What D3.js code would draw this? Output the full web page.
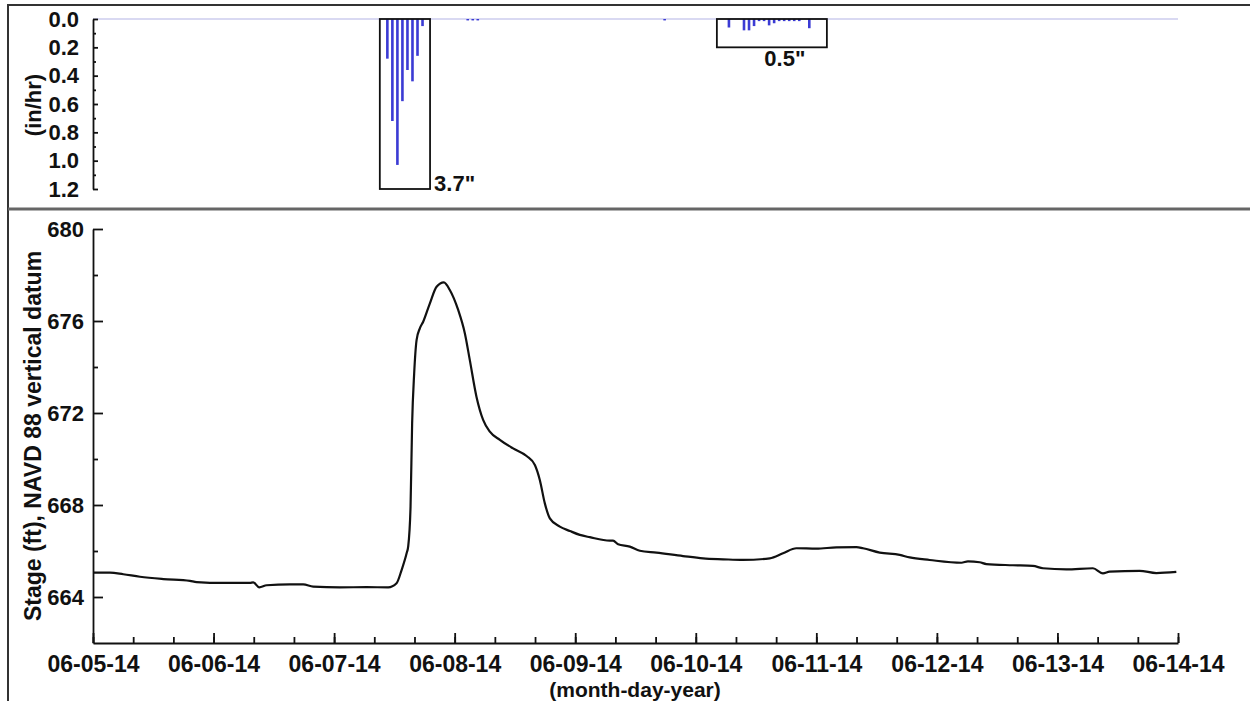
<!DOCTYPE html>
<meta charset="utf-8">
<style>
  body { margin: 0; background: #fff; }
  text { font-family: "Liberation Sans", Arial, sans-serif; font-weight: bold; fill: #111; }
  .axis path, .axis line { stroke: #111; stroke-width: 1.8px; }
</style>
<body>
<div id="vis"></div>
<script src="https://cdn.jsdelivr.net/npm/d3@7"></script>
<script>

// rainfall, hourly intensity (in/hr)
const rainTime = ['06-07-14 10:36', '06-07-14 11:36', '06-07-14 12:36', '06-07-14 13:36',
  '06-07-14 14:36', '06-07-14 15:36', '06-07-14 16:36', '06-07-14 17:36',
  '06-08-14 02:36', '06-08-14 03:36', '06-08-14 04:36', '06-09-14 17:48',
  '06-10-14 06:36', '06-10-14 09:36', '06-10-14 10:36', '06-10-14 11:36',
  '06-10-14 12:36', '06-10-14 13:36', '06-10-14 14:36', '06-10-14 15:36',
  '06-10-14 16:36', '06-10-14 17:36', '06-10-14 18:36', '06-10-14 19:36',
  '06-10-14 20:36', '06-10-14 22:36'];
const rainInHr = [0.28, 0.72, 1.03, 0.58, 0.36, 0.44, 0.26, 0.05,
  0.01, 0.01, 0.01, 0.01,
  0.06, 0.08, 0.08, 0.05, 0.015, 0.015, 0.045, 0.03,
  0.015, 0.015, 0.015, 0.015, 0.015, 0.065];

// storm totals boxes
const stormStart = ['06-07-14 09:06', '06-10-14 04:12'];
const stormEnd = ['06-07-14 19:06', '06-11-14 02:06'];
const stormDepth = [1.2, 0.2];
const stormLabel = ['3.7"', '0.5"'];

// stage (ft, NAVD 88)
const stageTime = ['06-05-14 00:00', '06-05-14 03:23', '06-05-14 06:02', '06-05-14 09:21',
  '06-05-14 14:00', '06-05-14 19:18', '06-05-14 20:38', '06-06-14 01:56', '06-06-14 07:15',
  '06-06-14 07:54', '06-06-14 09:06', '06-06-14 10:34', '06-06-14 15:12', '06-06-14 17:51',
  '06-06-14 19:50', '06-07-14 01:09', '06-07-14 06:28', '06-07-14 10:46', '06-07-14 12:26',
  '06-07-14 13:26', '06-07-14 14:26', '06-07-14 14:45', '06-07-14 15:13', '06-07-14 15:32',
  '06-07-14 15:56', '06-07-14 16:25', '06-07-14 17:04', '06-07-14 17:44', '06-07-14 19:04',
  '06-07-14 20:24', '06-07-14 21:51', '06-07-14 23:02', '06-08-14 00:42', '06-08-14 02:02',
  '06-08-14 03:01', '06-08-14 04:21', '06-08-14 05:40', '06-08-14 07:00', '06-08-14 09:00',
  '06-08-14 11:38', '06-08-14 14:19', '06-08-14 15:58', '06-08-14 16:57', '06-08-14 17:57',
  '06-08-14 18:57', '06-08-14 20:56', '06-08-14 22:56', '06-09-14 00:55', '06-09-14 02:54',
  '06-09-14 06:53', '06-09-14 07:32', '06-09-14 08:32', '06-09-14 10:52', '06-09-14 12:52',
  '06-09-14 16:11', '06-09-14 21:28', '06-10-14 01:27', '06-10-14 05:26', '06-10-14 09:24',
  '06-10-14 14:44', '06-10-14 17:22', '06-10-14 20:02', '06-11-14 00:01', '06-11-14 04:00',
  '06-11-14 07:59', '06-11-14 09:18', '06-11-14 12:37', '06-11-14 16:36', '06-11-14 18:35',
  '06-11-14 22:34', '06-12-14 04:53', '06-12-14 06:11', '06-12-14 08:31', '06-12-14 09:51',
  '06-12-14 15:09', '06-12-14 19:07', '06-12-14 21:07', '06-13-14 01:46', '06-13-14 07:04',
  '06-13-14 09:03', '06-13-14 10:23', '06-13-14 16:22', '06-13-14 19:41', '06-13-14 23:40'];
const stageFt = [665.06, 665.06, 664.99, 664.88,
  664.78, 664.70, 664.65, 664.61, 664.61,
  664.64, 664.42, 664.51, 664.55, 664.55,
  664.45, 664.42, 664.43, 664.42, 664.60,
  665.17, 665.90, 666.20, 667.93, 671.55,
  673.70, 675.17, 675.68, 675.97, 676.77,
  677.49, 677.68, 677.35, 676.48, 675.46,
  674.30, 672.70, 671.70, 671.19, 670.83,
  670.46, 670.13, 669.74, 669.09, 668.07,
  667.42, 667.06, 666.87, 666.70, 666.60,
  666.45, 666.45, 666.29, 666.19, 666.01,
  665.93, 665.78, 665.68, 665.64, 665.61,
  665.68, 665.90, 666.12, 666.10, 666.16,
  666.17, 666.12, 665.93, 665.83, 665.72,
  665.61, 665.49, 665.55, 665.51, 665.43,
  665.38, 665.35, 665.25, 665.20, 665.25,
  665.03, 665.10, 665.14, 665.04, 665.09];

const xDomain = ['06-05-14 00:00', '06-14-14 00:00'];

const width = 1250, height = 701;
const parse = d3.timeParse('%m-%d-%y %H:%M');

const svg = d3.select('#vis').append('svg')
  .attr('width', width)
  .attr('height', height);

// frame
svg.append('path')
  .attr('d', 'M8,701V5H1250')
  .style('fill', 'none')
  .style('stroke', '#333')
  .style('stroke-width', 2);
svg.append('path')
  .attr('d', 'M8,209H1250')
  .style('stroke', '#666')
  .style('stroke-width', 3);

const x = d3.scaleTime()
  .domain(xDomain.map(parse))
  .range([93, 1178]);

// ---- rainfall panel ----
const yR = d3.scaleLinear().domain([0, 1.2]).range([19, 189]);

svg.append('line')
  .attr('x1', 93).attr('x2', 1178)
  .attr('y1', yR(0)).attr('y2', yR(0))
  .style('stroke', '#b4b4e6')
  .style('stroke-width', 1.2);

svg.append('g')
  .selectAll('rect')
  .data(rainTime.map((t, i) => ({t: parse(t), v: rainInHr[i]})))
  .enter().append('rect')
  .attr('x', d => x(d.t) - 1.3)
  .attr('width', 2.6)
  .attr('y', yR(0))
  .attr('height', d => yR(d.v) - yR(0))
  .style('fill', '#3b3bd4');

svg.append('g')
  .selectAll('rect')
  .data(stormStart)
  .enter().append('rect')
  .attr('x', d => x(parse(d)))
  .attr('width', (d, i) => x(parse(stormEnd[i])) - x(parse(d)))
  .attr('y', yR(0))
  .attr('height', (d, i) => yR(stormDepth[i]) - yR(0))
  .style('fill', 'none')
  .style('stroke', '#111')
  .style('stroke-width', 1.8);

svg.append('text')
  .attr('x', x(parse(stormEnd[0])) + 4)
  .attr('y', yR(stormDepth[0]) + 2)
  .style('font-size', '22px')
  .text(stormLabel[0]);
svg.append('text')
  .attr('x', (x(parse(stormStart[1])) + x(parse(stormEnd[1]))) / 2 + 13)
  .attr('y', yR(stormDepth[1]) + 19)
  .style('font-size', '22px')
  .style('text-anchor', 'middle')
  .text(stormLabel[1]);

svg.append('g')
  .attr('class', 'axis')
  .attr('transform', 'translate(93,0)')
  .call(d3.axisLeft(yR).tickValues([0, 0.2, 0.4, 0.6, 0.8, 1.0, 1.2])
    .tickFormat(d3.format('.1f')).tickSize(-5).tickSizeOuter(0).tickPadding(14));
svg.append('g')
  .attr('class', 'axis')
  .attr('transform', 'translate(93,0)')
  .call(d3.axisLeft(yR).tickValues([0.1, 0.3, 0.5, 0.7, 0.9, 1.1])
    .tickFormat('').tickSize(-3).tickSizeOuter(0))
  .select('.domain').remove();

svg.append('text')
  .attr('transform', 'translate(41,105) rotate(-90)')
  .style('font-size', '22px')
  .style('text-anchor', 'middle')
  .text('(in/hr)');

// ---- stage panel ----
const yS = d3.scaleLinear().domain([662, 680]).range([643, 229]);

svg.append('g')
  .attr('class', 'axis')
  .attr('transform', 'translate(93,0)')
  .call(d3.axisLeft(yS).tickValues([664, 668, 672, 676, 680])
    .tickSize(-10).tickSizeOuter(0).tickPadding(9));
svg.append('g')
  .attr('class', 'axis')
  .attr('transform', 'translate(93,0)')
  .call(d3.axisLeft(yS).tickValues([666, 670, 674, 678])
    .tickFormat('').tickSize(-5).tickSizeOuter(0))
  .select('.domain').remove();

const xAxis = svg.append('g')
  .attr('class', 'axis')
  .attr('transform', 'translate(0,' + yS(662) + ')')
  .call(d3.axisBottom(x).ticks(d3.timeDay.every(1))
    .tickFormat(d3.timeFormat('%m-%d-%y')).tickSize(-10).tickSizeOuter(0).tickPadding(13));
svg.append('g')
  .attr('class', 'axis')
  .attr('transform', 'translate(0,' + yS(662) + ')')
  .call(d3.axisBottom(x).ticks(d3.timeHour.every(8))
    .tickFormat('').tickSize(-6).tickSizeOuter(0))
  .select('.domain').remove();

svg.selectAll('.axis text')
  .style('font-size', '22px')
  .style('font-family', '"Liberation Sans", Arial, sans-serif')
  .style('font-weight', 'bold')
  .style('fill', '#111');
xAxis.selectAll('text').style('font-size', '23px');

const line = d3.line()
  .x(d => x(d.t))
  .y(d => yS(d.v))
  .curve(d3.curveMonotoneX);

svg.append('path')
  .datum(stageTime.map((t, i) => ({t: parse(t), v: stageFt[i]})))
  .attr('d', line)
  .style('fill', 'none')
  .style('stroke', '#111')
  .style('stroke-width', 2.2);

svg.append('text')
  .attr('transform', 'translate(41,436) rotate(-90)')
  .style('font-size', '23px')
  .style('text-anchor', 'middle')
  .text('Stage (ft), NAVD 88 vertical datum');

svg.append('text')
  .attr('x', 635)
  .attr('y', 697)
  .style('font-size', '21px')
  .style('text-anchor', 'middle')
  .text('(month-day-year)');

</script>
</body>
